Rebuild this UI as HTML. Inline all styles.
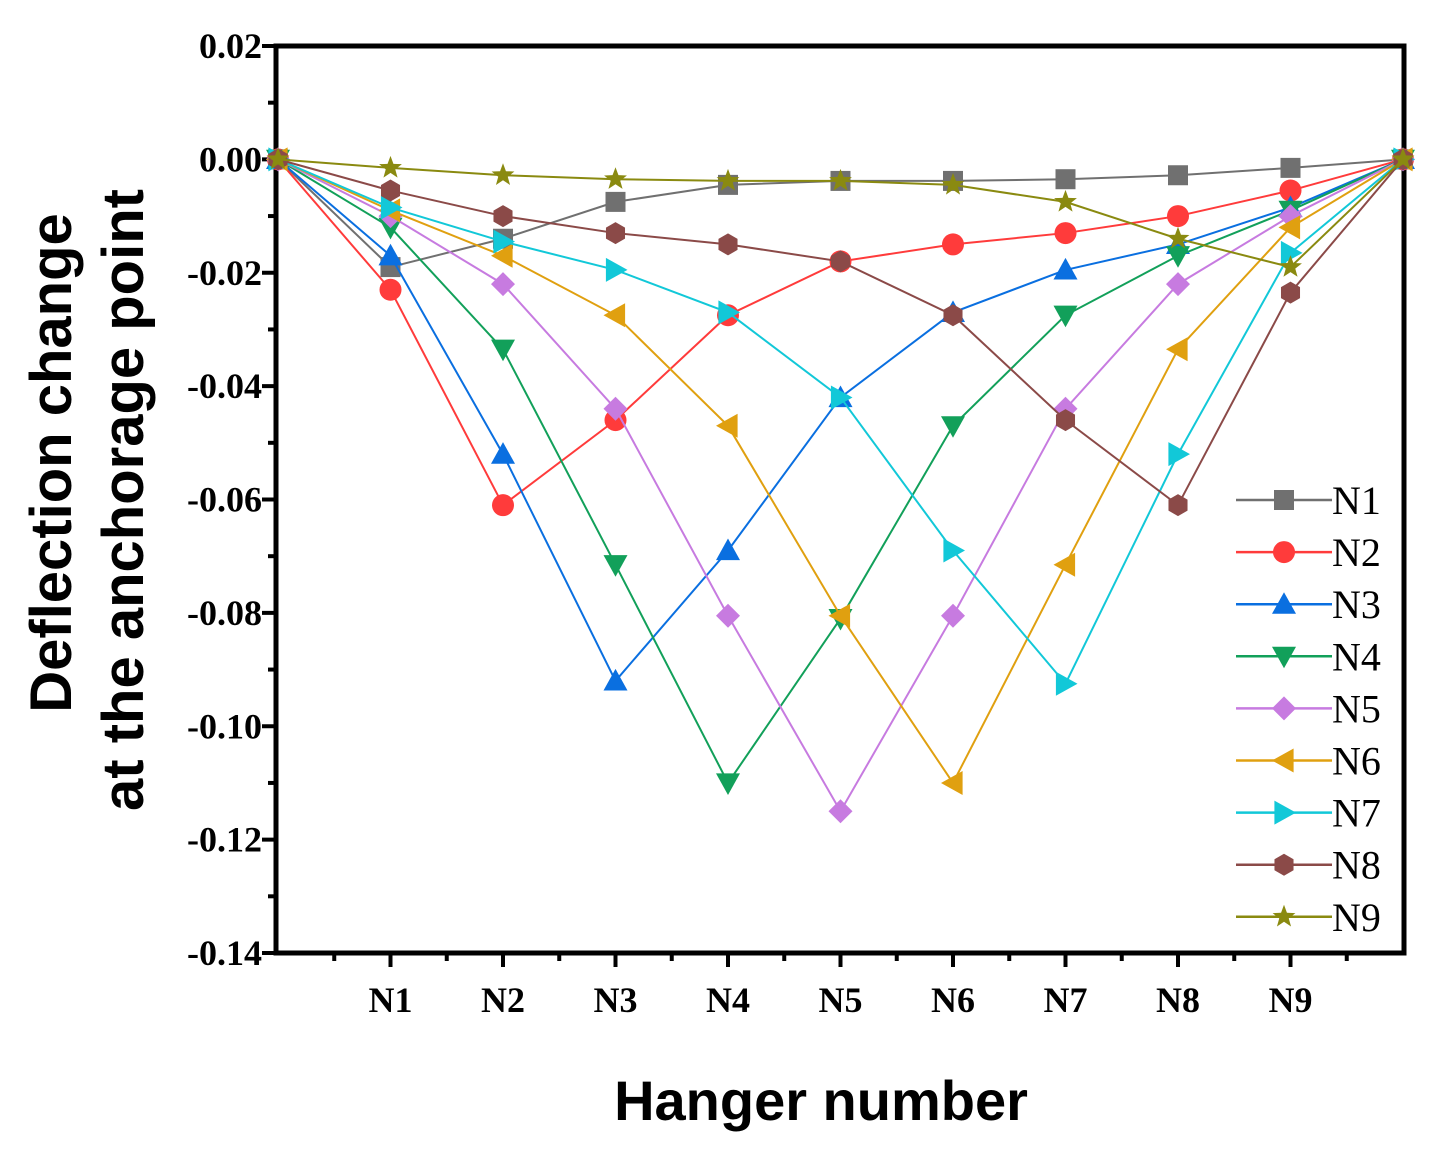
<!DOCTYPE html>
<html><head><meta charset="utf-8"><style>
body{margin:0;background:#fff}
svg text{font-family:"Liberation Serif",serif}
</style></head><body>
<svg id="chart" width="1437" height="1145" viewBox="0 0 1437 1145" xmlns="http://www.w3.org/2000/svg">
<g id="axes"></g>
<g id="series"></g>
<g id="legend"></g>
<text x="0" y="0" transform="translate(71,463) rotate(-90)" text-anchor="middle" font-size="58" font-weight="bold" style="font-family:'Liberation Sans',sans-serif">Deflection change</text>
<text x="0" y="0" transform="translate(143,500) rotate(-90)" text-anchor="middle" font-size="58" font-weight="bold" style="font-family:'Liberation Sans',sans-serif">at the anchorage point</text>
<text x="821" y="1120" text-anchor="middle" font-size="56" font-weight="bold" style="font-family:'Liberation Sans',sans-serif">Hanger number</text>
</svg>
<script>
const categories = ["", "N1","N2","N3","N4","N5","N6","N7","N8","N9",""];
const yTicks = [0.02,0.00,-0.02,-0.04,-0.06,-0.08,-0.10,-0.12,-0.14];
const yTickLabels = ["0.02","0.00","-0.02","-0.04","-0.06","-0.08","-0.10","-0.12","-0.14"];
const seriesNames = ["N1","N2","N3","N4","N5","N6","N7","N8","N9"];
const seriesColors = ["#707070","#ff3b3b","#0a6fe0","#12a05a","#c77be0","#e0a010","#12c8d8","#8b4a48","#8a8a10"];
const seriesMarkers = ["square","circle","up","down","diamond","left","right","hex","star"];
const n1 = [0,-0.019,-0.014,-0.0075,-0.0045,-0.0038,-0.0038,-0.0035,-0.0028,-0.0015,0];
const n2 = [0,-0.023,-0.061,-0.046,-0.0275,-0.018,-0.015,-0.013,-0.010,-0.0055,0];
const n3 = [0,-0.017,-0.052,-0.092,-0.069,-0.042,-0.027,-0.0195,-0.015,-0.0085,0];
const n4 = [0,-0.012,-0.0335,-0.0715,-0.11,-0.081,-0.047,-0.0275,-0.017,-0.009,0];
const n5 = [0,-0.010,-0.022,-0.044,-0.0805,-0.115,-0.0805,-0.044,-0.022,-0.010,0];
const n6 = [0,-0.009,-0.017,-0.0275,-0.047,-0.0805,-0.11,-0.0715,-0.0335,-0.012,0];
const n7 = [0,-0.0085,-0.0145,-0.0195,-0.027,-0.042,-0.069,-0.0925,-0.052,-0.0165,0];
const n8 = [0,-0.0055,-0.010,-0.013,-0.015,-0.018,-0.0275,-0.046,-0.061,-0.0235,0];
const n9 = [0,-0.0015,-0.0028,-0.0035,-0.0038,-0.0038,-0.0045,-0.0075,-0.014,-0.019,0];
const allSeries = [n1,n2,n3,n4,n5,n6,n7,n8,n9];

const NS="http://www.w3.org/2000/svg";
const L=276,R=1404,T=46,B=953;
const xS=i=>278+i*112.5;
const yS=v=>T+(0.02-v)/0.16*(B-T);
function mk(tag,attrs,parent){const e=document.createElementNS(NS,tag);for(const k in attrs)e.setAttribute(k,attrs[k]);parent.appendChild(e);return e;}
const axes=document.getElementById('axes');
let f=mk('rect',{x:L,y:T,width:R-L,height:B-T,fill:'none',stroke:'#000','stroke-width':5},axes);


yTicks.forEach((v,i)=>{
  const y=yS(v);
  let t=mk('line',{x1:L-14,x2:L,y1:y,y2:y,stroke:'#000','stroke-width':4},axes);
  
  
  if(i<yTicks.length-1){const ym=yS(v-0.01);
    let m=mk('line',{x1:L-8,x2:L,y1:ym,y2:ym,stroke:'#000','stroke-width':4},axes);
    
    }
  let tx=mk('text',{x:L-14,y:y+12,'text-anchor':'end','font-size':36,'font-weight':'bold'},axes);
  tx.textContent=yTickLabels[i];
  
  
});
categories.forEach((c,i)=>{
  const x=xS(i);
  if(i<categories.length-1){const xm=xS(i+0.5);
    let m=mk('line',{x1:xm,x2:xm,y1:B,y2:B+8,stroke:'#000','stroke-width':4},axes);
    
    }
  if(!c)return;
  let t=mk('line',{x1:x,x2:x,y1:B,y2:B+14,stroke:'#000','stroke-width':4},axes);
  
  
  let tx=mk('text',{x:x,y:B+59,'text-anchor':'middle','font-size':36,'font-weight':'bold'},axes);
  tx.textContent=c;
  
  
});
function marker(type,x,y,color,parent){
  const s=10;let e;
  if(type==='square')e=mk('rect',{x:x-s,y:y-s,width:2*s,height:2*s},parent);
  else if(type==='circle')e=mk('circle',{cx:x,cy:y,r:s+1},parent);
  else{
    let pts;
    const k=12;
    if(type==='up')pts=[[0,-k],[k,k*0.8],[-k,k*0.8]];
    else if(type==='down')pts=[[0,k],[k,-k*0.8],[-k,-k*0.8]];
    else if(type==='left')pts=[[-k,0],[k*0.8,-k],[k*0.8,k]];
    else if(type==='right')pts=[[k,0],[-k*0.8,-k],[-k*0.8,k]];
    else if(type==='diamond')pts=[[0,-k],[k,0],[0,k],[-k,0]];
    else if(type==='hex'){pts=[];for(let a=0;a<6;a++){const t=Math.PI/3*a+Math.PI/6;pts.push([11*Math.cos(t),11*Math.sin(t)]);}}
    else {pts=[];for(let a=0;a<10;a++){const r=a%2?5:12,t=-Math.PI/2+a*Math.PI/5;pts.push([r*Math.cos(t),r*Math.sin(t)]);}}
    e=mk('polygon',{points:pts.map(p=>(x+p[0])+','+(y+p[1])).join(' ')},parent);
  }
  e.setAttribute('fill',color);
  return e;
}
const sg=document.getElementById('series');
allSeries.forEach((data,si)=>{
  const g=mk('g',{},sg);
  
  
  let p=mk('polyline',{points:data.map((v,i)=>xS(i)+','+yS(v)).join(' '),fill:'none',stroke:seriesColors[si],'stroke-width':2},g);
  
  
  data.forEach((v,i)=>{
    const m=marker(seriesMarkers[si],xS(i),yS(v),seriesColors[si],g);
    
    
  });
});
const lg=document.getElementById('legend');
seriesNames.forEach((n,i)=>{
  const y=500+i*52.1;
  const g=mk('g',{},lg);
  
  
  mk('line',{x1:1236,x2:1332,y1:y,y2:y,stroke:seriesColors[i],'stroke-width':2.5},g);
  marker(seriesMarkers[i],1284,y,seriesColors[i],g);
  const t=mk('text',{x:1332,y:y+14,'font-size':40},g);
  t.textContent=n;
});
</script>
</body></html>
